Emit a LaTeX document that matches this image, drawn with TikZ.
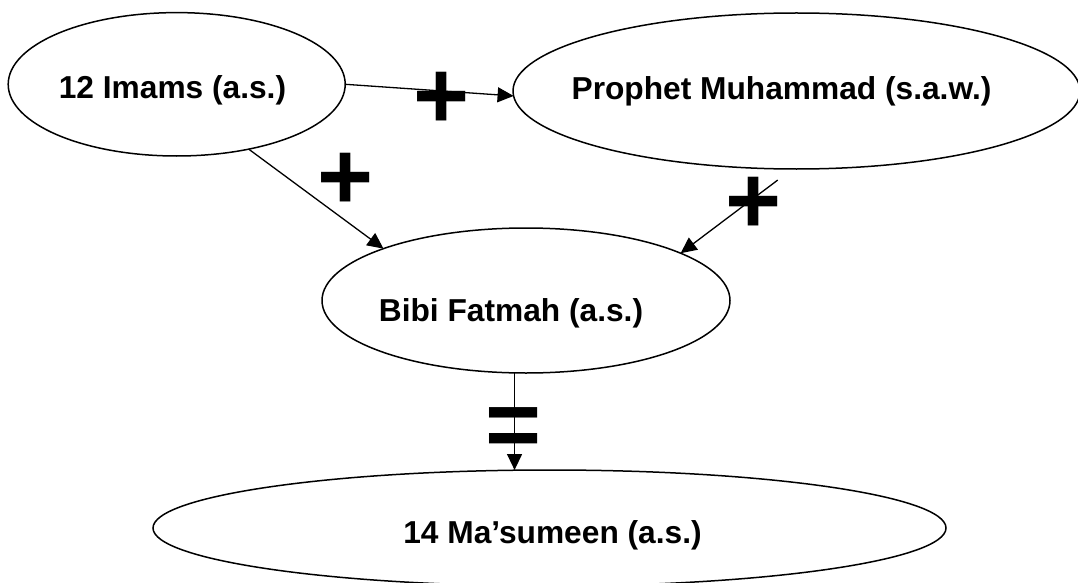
\documentclass[tikz,border=0pt]{standalone}
\usepackage{fontspec}
\setmainfont{Liberation Sans}
\usetikzlibrary{shapes.geometric,arrows.meta}
\begin{document}
\begin{tikzpicture}[x=1pt,y=-1pt,
  oval/.style={ellipse, draw, line width=1.5pt, inner sep=0pt, outer sep=0pt},
  lab/.style={font=\fontsize{31.7}{38}\selectfont\bfseries, anchor=base, inner sep=0pt},
  sym/.style={font=\fontsize{96}{100}\selectfont\bfseries, anchor=base, inner sep=0pt},
  conn/.style={line width=1.3pt, -{Triangle[length=16pt,width=15pt]}}]
\useasboundingbox (0,0) rectangle (1078,583);
% ovals
\node[oval, minimum width=337pt, minimum height=143.4pt] (e1) at (176.7,84.3) {};
\node[oval, minimum width=567pt, minimum height=156pt] (e2) at (796.5,91) {};
\node[oval, minimum width=408pt, minimum height=145pt] (e3) at (526,300.5) {};
\node[oval, minimum width=793pt, minimum height=116pt] (e4) at (549.5,528) {};
% labels
\node[lab] (t1) at (172.5,99) {12 Imams (a.s.)};
\node[lab] (t2) at (781.5,99.5) {Prophet Muhammad (s.a.w.)};
\node[lab] (t3) at (511,321) {Bibi Fatmah (a.s.)};
\node[lab] (t4) at (552.5,543) {14 Ma’sumeen (a.s.)};
% connectors
\draw[conn] (e1.east) -- (e2.181);
\draw[conn] (e1.-42) -- (e3.160);
\draw[conn, shorten <=18.4pt] (e2.-93) -- (e3.17);
\draw[conn] (e3.-99.4) -- (e3.-99.4 |- e4.north);
% signs
\node[sym] (p1) at (441.7,128.5) {+};
\node[sym] (p2) at (346,209.3) {+};
\node[sym] (p3) at (753.3,233) {+};
\node[sym] (q1) at (514,457) {=};
\end{tikzpicture}
\end{document}
